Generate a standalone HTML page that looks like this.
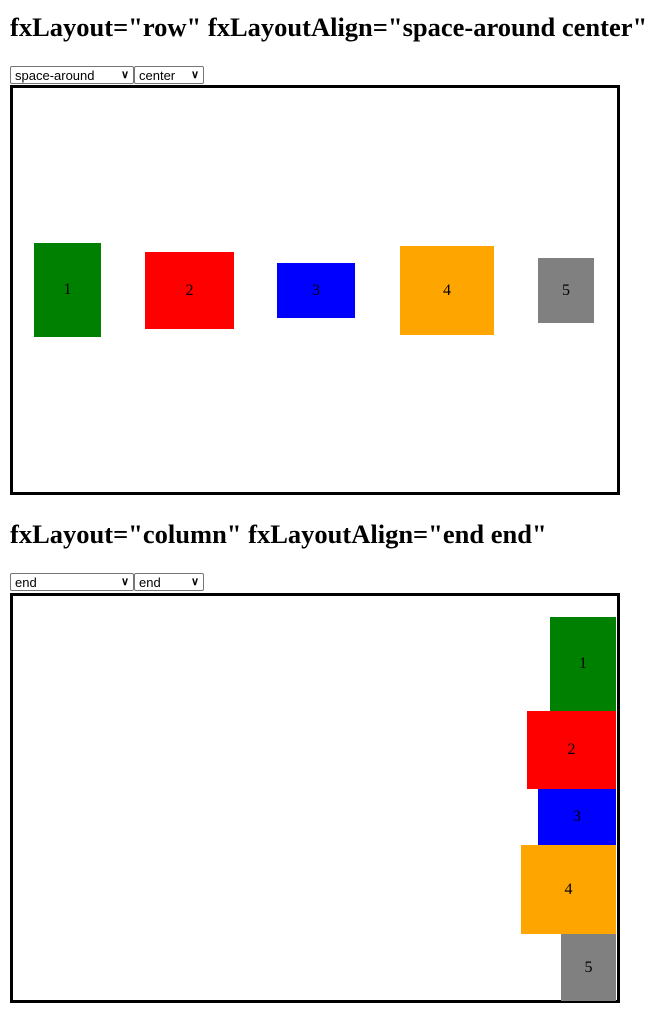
<!DOCTYPE html>
<html><head><meta charset="utf-8"><style>
body{margin:0;width:672px;height:1024px;background:#fff;position:relative;overflow:hidden;font-family:"Liberation Serif",serif}
h2{position:absolute;left:10px;margin:0;font-size:26.5px;font-weight:bold;white-space:nowrap}
.sel{position:absolute;height:18px;border:1px solid #767676;border-radius:2px;background:#fff;font-family:"Liberation Sans",sans-serif;font-size:13px;line-height:17px;padding-left:4px;box-sizing:border-box}
.sel span{position:absolute;right:4px;top:0;font-size:11px;font-weight:bold}
.box{position:absolute;left:10px;width:610px;height:410px;border:3px solid #000;box-sizing:border-box}
.it{position:absolute;display:flex;align-items:center;justify-content:center;font-size:16px}
</style></head><body>
<h2 style="top:12px">fxLayout="row" fxLayoutAlign="space-around center"</h2>
<div class="sel" style="left:10px;top:66px;width:124px">space-around<span>&#x2228;</span></div>
<div class="sel" style="left:134px;top:66px;width:70px">center<span>&#x2228;</span></div>
<div class="box" style="top:85px"></div>
<div class="it" style="left:34px;top:243px;width:67px;height:94px;background:green">1</div>
<div class="it" style="left:145px;top:252px;width:89px;height:77px;background:red">2</div>
<div class="it" style="left:277px;top:263px;width:78px;height:55px;background:blue">3</div>
<div class="it" style="left:400px;top:246px;width:94px;height:89px;background:orange">4</div>
<div class="it" style="left:538px;top:258px;width:56px;height:65px;background:gray">5</div>

<h2 style="top:519px">fxLayout="column" fxLayoutAlign="end end"</h2>
<div class="sel" style="left:10px;top:573px;width:124px">end<span>&#x2228;</span></div>
<div class="sel" style="left:134px;top:573px;width:70px">end<span>&#x2228;</span></div>
<div class="box" style="top:593px"></div>
<div class="it" style="left:550px;top:617px;width:66px;height:94px;background:green">1</div>
<div class="it" style="left:527px;top:711px;width:89px;height:78px;background:red">2</div>
<div class="it" style="left:538px;top:789px;width:78px;height:56px;background:blue">3</div>
<div class="it" style="left:521px;top:845px;width:95px;height:89px;background:orange">4</div>
<div class="it" style="left:561px;top:934px;width:55px;height:67px;background:gray">5</div>
</body></html>
